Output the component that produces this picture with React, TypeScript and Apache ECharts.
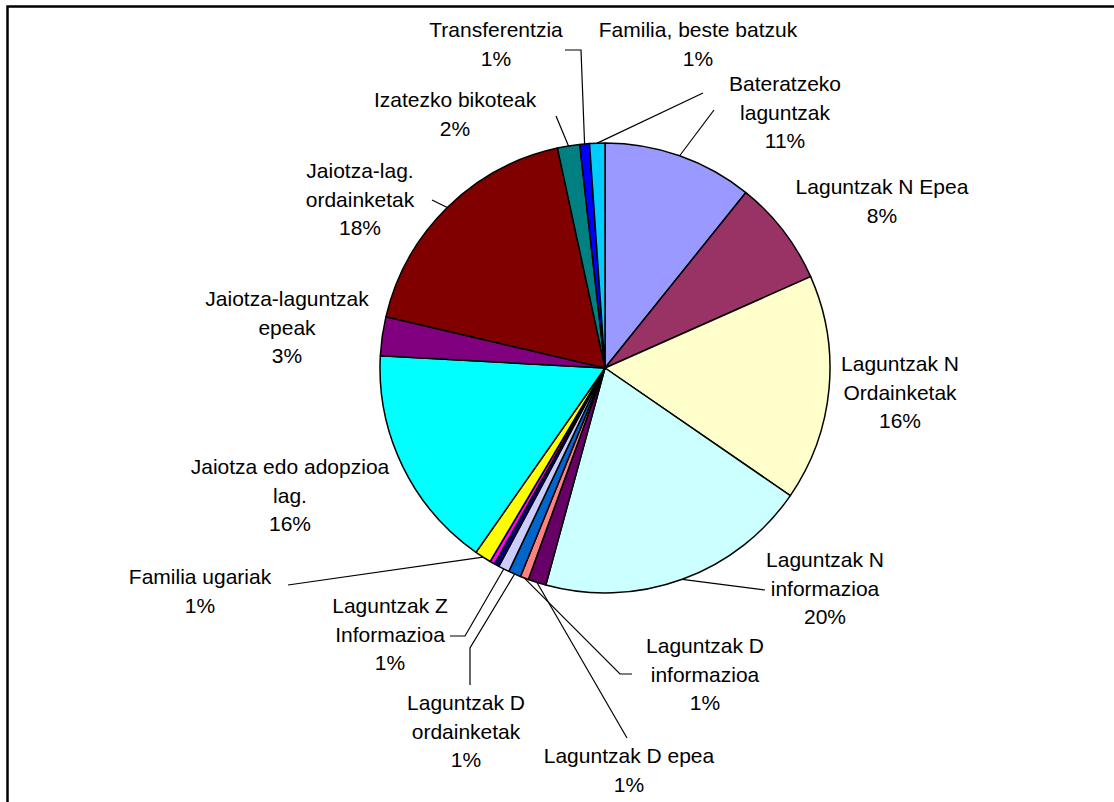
import React, { useEffect, useRef } from "react";
import * as echarts from "echarts";

// Slice names (as shown in the labels, line breaks included), clockwise from 12 o'clock
const categories: string[] = [
  "Bateratzeko\nlaguntzak",
  "Laguntzak N Epea",
  "Laguntzak N\nOrdainketak",
  "Laguntzak N\ninformazioa",
  "Laguntzak D epea",
  "Laguntzak D\ninformazioa",
  "Laguntzak D\nordainketak",
  "Laguntzak Z\nInformazioa",
  "Laguntzak Z epea",
  "Laguntzak Z ordainketak",
  "Familia ugariak",
  "Jaiotza edo adopzioa\nlag.",
  "Jaiotza-laguntzak\nepeak",
  "Jaiotza-lag.\nordainketak",
  "Izatezko bikoteak",
  "Transferentzia",
  "Familia, beste batzuk",
];

// Shares (percent)
const values: number[] = [
  10.8, 7.6, 16.3, 19.7, 1.3, 0.6, 0.9, 0.8, 0.35, 0.35, 1.2, 16.2, 2.8, 18.0, 1.6, 0.7, 1.1,
];

// Which slices carry a label
const showLabel: boolean[] = [
  true, true, true, true, true, true, true, true, false, false, true, true, true, true, true, true, true,
];

// Styling
const colors: string[] = [
  "#9999FF", "#993366", "#FFFFCC", "#CCFFFF", "#660066", "#FF8080", "#0066CC", "#CCCCFF",
  "#000080", "#FF00FF", "#FFFF00", "#00FFFF", "#800080", "#800000", "#008080", "#0000FF", "#00CCFF",
];

type LabelPos = { x: number; y: number; line?: number[][] } | null;
// Label placement (centre of the text block) and leader-line bends (after the slice edge point)
const labelPositions: LabelPos[] = [
  { x: 785, y: 112, line: [[714, 110]] },
  { x: 882, y: 201 },
  { x: 900, y: 392 },
  { x: 825, y: 588, line: [[765, 590]] },
  { x: 629, y: 770, line: [[627, 738]] },
  { x: 705, y: 674, line: [[620, 674], [632, 674]] },
  { x: 466, y: 731, line: [[470, 648], [470, 685]] },
  { x: 390, y: 634, line: [[465, 636], [450, 636]] },
  null,
  null,
  { x: 200, y: 591, line: [[288, 585]] },
  { x: 290, y: 495 },
  { x: 287, y: 327 },
  { x: 360, y: 199, line: [[432, 200]] },
  { x: 455, y: 114, line: [[556, 116]] },
  { x: 496, y: 44, line: [[581, 50], [565, 50]] },
  { x: 698, y: 44, line: [[703, 93]] },
];

export default function App() {
  const ref = useRef<HTMLDivElement>(null);

  useEffect(() => {
    if (!ref.current) return;
    const chart = echarts.init(ref.current, undefined, { renderer: "svg" });
    chart.setOption({
      animation: false,
      backgroundColor: "#ffffff",
      graphic: [
        {
          type: "rect",
          z: 100,
          silent: true,
          shape: { x: 7.5, y: 6.5, width: 1300, height: 1000 },
          style: { fill: "none", stroke: "#000000", lineWidth: 2.5 },
        },
      ],
      series: [
        {
          type: "pie",
          center: [605, 368],
          radius: 225,
          startAngle: 90,
          clockwise: true,
          avoidLabelOverlap: false,
          itemStyle: { borderColor: "#000000", borderWidth: 1.5 },
          label: {
            show: true,
            position: "outside",
            color: "#000000",
            fontFamily: "'Liberation Sans', Arial, sans-serif",
            fontSize: 21,
            lineHeight: 28.5,
            align: "center",
            formatter: (p: any) => `${p.name}\n${Math.round(p.percent)}%`,
          },
          labelLine: {
            show: true,
            smooth: false,
            lineStyle: { color: "#000000", width: 1.2 },
          },
          labelLayout: (params: any) => {
            const pos = labelPositions[params.dataIndex];
            if (!pos) return {};
            const res: any = {
              x: pos.x,
              y: pos.y,
              align: "center",
              verticalAlign: "middle",
              hideOverlap: false,
            };
            if (pos.line && params.labelLinePoints && params.labelLinePoints.length) {
              res.labelLinePoints = [params.labelLinePoints[0], ...pos.line];
            }
            return res;
          },
          data: categories.map((name, i) => ({
            name,
            value: values[i],
            itemStyle: { color: colors[i] },
            label: { show: showLabel[i] },
            labelLine: { show: !!(labelPositions[i] && labelPositions[i]!.line) },
          })),
        },
      ],
    });
    return () => chart.dispose();
  }, []);

  return (
    <div
      ref={ref}
      style={{ position: "fixed", left: 0, top: 0, width: 1114, height: 802 }}
    />
  );
}
